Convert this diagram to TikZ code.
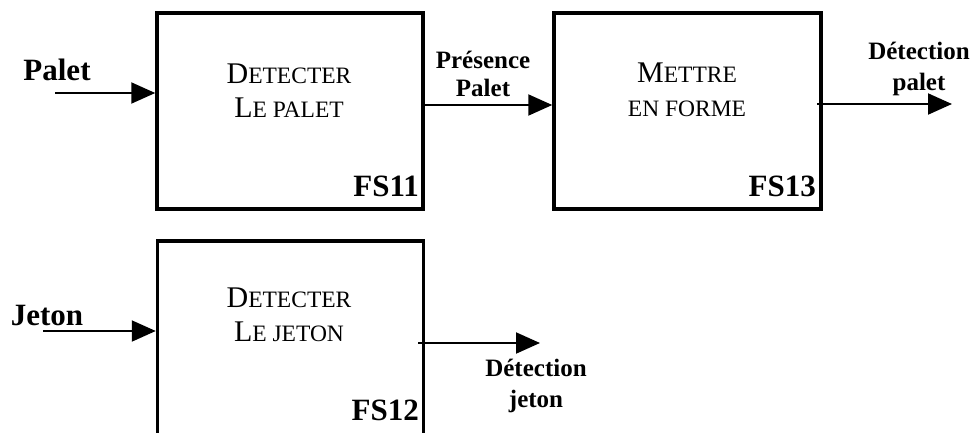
\documentclass[tikz,border=0pt]{standalone}
\usepackage{fontspec}
\setmainfont{Liberation Serif}
\usetikzlibrary{arrows.meta}
\newcommand\smsc[1]{{\fontsize{23.5}{33}\selectfont #1}}
\begin{document}
\begin{tikzpicture}[x=1pt,y=-1pt,
 fbox/.style={draw,line width=3.5pt,inner sep=0,minimum width=266pt,minimum height=196pt},
 arr/.style={line width=2pt,-{Triangle[length=24pt,width=21pt]}},
 lbl/.style={font=\bfseries\fontsize{25}{31}\selectfont,inner sep=0,align=center},
 biglbl/.style={font=\bfseries\fontsize{31}{36}\selectfont,inner sep=0},
 ttl/.style={inner sep=0,align=center,font=\fontsize{30}{34}\selectfont}]
\clip (0,0) rectangle (975,432);
\fill[white] (0,0) rectangle (975,432);
% boxes
\node[fbox] (FS11) at (290,111) {};
\node[fbox,minimum width=267pt] (FS13) at (687.5,111) {};
\node[fbox,minimum height=210pt] (FS12) at (290.5,346) {};
% titles
\node[ttl] (t11) at (289,91) {D\smsc{ETECTER}\\L\smsc{E PALET}};
\node[ttl] (t13) at (687,90) {M\smsc{ETTRE}\\\smsc{EN FORME}};
\node[ttl] (t12) at (289,315) {D\smsc{ETECTER}\\L\smsc{E JETON}};
% FS labels
\node[biglbl,anchor=east] (l11) at (419,186) {FS11};
\node[biglbl,anchor=east] (l13) at (816,186) {FS13};
\node[biglbl,anchor=east] (l12) at (419,410) {FS12};
% inputs
\node[biglbl] (palet) at (57,70) {Palet};
\node[biglbl] (jeton) at (47,315) {Jeton};
\coordinate (p0) at (55,93);
\draw[arr] (p0) -- (p0 -| FS11.west);
\coordinate (j0) at (43,331);
\draw[arr] (j0) -- (j0 -| FS12.west);
% FS11 -> FS13
\coordinate (m0) at (421,105);
\draw[arr] (m0) -- (m0 -| FS13.west);
\node[lbl] (pres) at (483,74) {Présence\\[-3pt]Palet};
% FS13 output
\coordinate (o1) at (817,104);
\coordinate (o1e) at (952,104);
\draw[arr] (o1) -- (o1e);
\node[lbl] (dpal) at (919,69) {Détection\\palet};
% FS12 output
\coordinate (o2) at (418,343);
\coordinate (o2e) at (540,343);
\draw[arr] (o2) -- (o2e);
\node[lbl] (djet) at (536,386) {Détection\\jeton};
\end{tikzpicture}
\end{document}
